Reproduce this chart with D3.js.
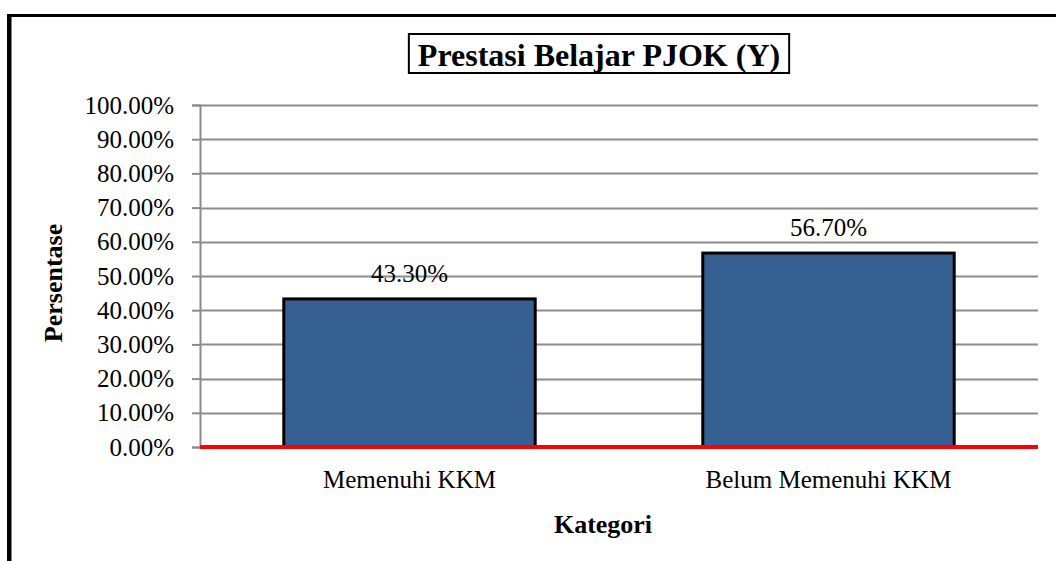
<!DOCTYPE html>
<html>
<head>
<meta charset="utf-8">
<script src="https://cdn.jsdelivr.net/npm/d3@7"></script>
<style>
  body { margin: 0; background: #fff; }
  svg { display: block; font-family: "Liberation Serif", "Times New Roman", serif; }
</style>
</head>
<body>
<div id="chart"></div>
<script>
var categories = ["Memenuhi KKM", "Belum Memenuhi KKM"];
var values = [0.433, 0.567];
var valueLabels = ["43.30%", "56.70%"];
var yTicks = [0, 0.1, 0.2, 0.3, 0.4, 0.5, 0.6, 0.7, 0.8, 0.9, 1.0];

var W = 1056, H = 561;
var margin = { top: 105, right: 18, bottom: 114, left: 200 },
  width = W - margin.left - margin.right,
  height = H - margin.top - margin.bottom;

var svg = d3.select("#chart").append("svg")
  .attr("width", W)
  .attr("height", H);

// outer frame (right and bottom fall outside the picture)
svg.append("path")
  .attr("d", "M10," + H + " L10,15.5 L" + W + ",15.5")
  .attr("fill", "none")
  .attr("stroke", "#000")
  .attr("stroke-width", 3);
svg.append("line")
  .attr("x1", 8.5).attr("x2", 8.5).attr("y1", 14).attr("y2", H)
  .attr("stroke", "#000").attr("stroke-width", 3);

// title in a box
var titleG = svg.append("g");
var title = titleG.append("text")
  .attr("x", 599)
  .attr("y", 66)
  .attr("text-anchor", "middle")
  .attr("font-weight", "bold")
  .attr("font-size", 32)
  .text("Prestasi Belajar PJOK (Y)");
var tb = title.node().getBBox();
titleG.insert("rect", "text")
  .attr("x", tb.x - 9)
  .attr("y", 34)
  .attr("width", tb.width + 18)
  .attr("height", 39)
  .attr("fill", "#fff")
  .attr("stroke", "#000")
  .attr("stroke-width", 2);

var g = svg.append("g")
  .attr("transform", "translate(" + margin.left + "," + margin.top + ")");

var x = d3.scaleBand()
  .domain(categories)
  .range([0, width])
  .paddingInner(0.4)
  .paddingOuter(0.2);

var y = d3.scaleLinear()
  .domain([0, 1])
  .range([height, 0]);

// gridlines
g.append("g")
  .selectAll("line")
  .data(yTicks.slice(1))
  .enter().append("line")
  .attr("x1", 0).attr("x2", width)
  .attr("y1", function (d) { return Math.round(y(d)) + 0.5; })
  .attr("y2", function (d) { return Math.round(y(d)) + 0.5; })
  .attr("stroke", "#8c8c8c")
  .attr("stroke-width", 2);

// y axis
var yAxis = d3.axisLeft(y)
  .tickValues(yTicks)
  .tickFormat(function (d) { return (d * 100).toFixed(2) + "%"; })
  .tickSize(8)
  .tickPadding(18);

var yg = g.append("g").call(yAxis);
yg.select(".domain").attr("stroke", "#8c8c8c").attr("stroke-width", 2);
yg.selectAll(".tick line").attr("stroke", "#8c8c8c").attr("stroke-width", 2);
yg.selectAll(".tick text")
  .attr("font-family", "Liberation Serif, serif")
  .attr("font-size", 25)
  .attr("fill", "#000");

// bars
g.selectAll(".bar")
  .data(values)
  .enter().append("rect")
  .attr("class", "bar")
  .attr("x", function (d, i) { return x(categories[i]); })
  .attr("y", function (d) { return y(d); })
  .attr("width", x.bandwidth())
  .attr("height", function (d) { return height - y(d); })
  .attr("fill", "#376092")
  .attr("stroke", "#000")
  .attr("stroke-width", 3);

// value labels
g.selectAll(".vlabel")
  .data(values)
  .enter().append("text")
  .attr("class", "vlabel")
  .attr("x", function (d, i) { return x(categories[i]) + x.bandwidth() / 2; })
  .attr("y", function (d) { return y(d) - 17; })
  .attr("text-anchor", "middle")
  .attr("font-size", 25)
  .text(function (d, i) { return valueLabels[i]; });

// red baseline
g.append("line")
  .attr("x1", 0).attr("x2", width)
  .attr("y1", height).attr("y2", height)
  .attr("stroke", "#ff0000")
  .attr("stroke-width", 4);

// x axis labels
g.selectAll(".xlabel")
  .data(categories)
  .enter().append("text")
  .attr("class", "xlabel")
  .attr("x", function (d) { return x(d) + x.bandwidth() / 2; })
  .attr("y", height + 41)
  .attr("text-anchor", "middle")
  .attr("font-size", 25)
  .text(function (d) { return d; });

// axis titles
svg.append("text")
  .attr("x", 603)
  .attr("y", 533)
  .attr("text-anchor", "middle")
  .attr("font-weight", "bold")
  .attr("font-size", 26)
  .text("Kategori");

svg.append("text")
  .attr("transform", "translate(62,283) rotate(-90)")
  .attr("text-anchor", "middle")
  .attr("font-weight", "bold")
  .attr("font-size", 26)
  .text("Persentase");
</script>
</body>
</html>
